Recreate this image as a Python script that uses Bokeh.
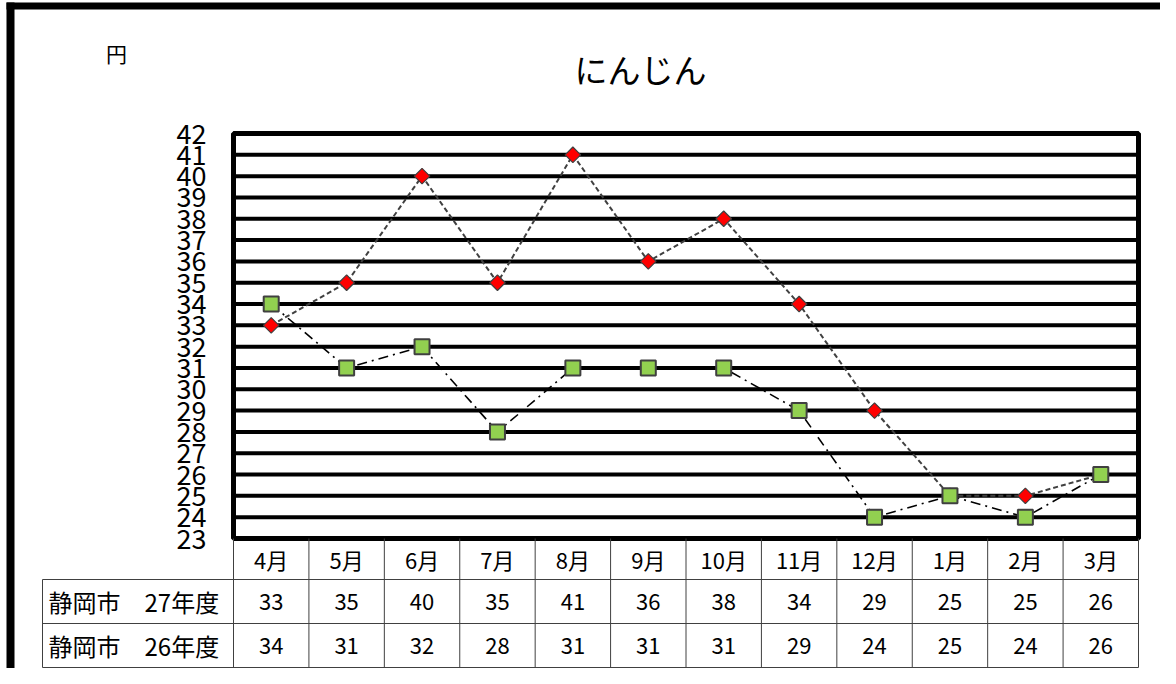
from bokeh.plotting import figure
from bokeh.models import Range1d
from bokeh.core.properties import value
from bokeh.embed import file_html
from bokeh.resources import INLINE

# ---------------- data ----------------
title = "にんじん"
unit = "円"
months = ["4月", "5月", "6月", "7月", "8月", "9月", "10月", "11月", "12月", "1月", "2月", "3月"]
series_names = ["静岡市　27年度", "静岡市　26年度"]
price_27 = [33, 35, 40, 35, 41, 36, 38, 34, 29, 25, 25, 26]
price_26 = [34, 31, 32, 28, 31, 31, 31, 29, 24, 25, 24, 26]
y_ticks = list(range(23, 43))

# ---------------- layout (figure pixels) ----------------
W, H = 1160, 668
PL, PR, PT, PB = 233, 1138, 133, 538          # plot area
YMIN, YMAX = y_ticks[0], y_ticks[-1]
n = len(months)
xpx = (PR - PL) / n
ypx = (PB - PT) / (YMAX - YMIN)

FONT = value("Noto Sans CJK JP")

p = figure(width=W, height=H,
           x_range=Range1d(-PL / xpx, n + (W - PR) / xpx),
           y_range=Range1d(YMIN - (H - PB) / ypx, YMAX + PT / ypx),
           x_axis_type=None, y_axis_type=None,
           output_backend="svg", toolbar_location=None,
           min_border=0, outline_line_color=None)
p.extra_x_ranges = {"px": Range1d(0, W)}
p.extra_y_ranges = {"px": Range1d(H, 0)}
p.background_fill_color = "white"
p.border_fill_color = "white"

xc = [i + 0.5 for i in range(n)]

# outer frame
p.segment(x0=[10], y0=[2], x1=[10], y1=[H], x_range_name="px", y_range_name="px",
          line_color="black", line_width=8)
p.segment(x0=[6], y0=[5.5], x1=[W], y1=[5.5], x_range_name="px", y_range_name="px",
          line_color="black", line_width=7)

# horizontal grid lines
p.segment(x0=[0] * len(y_ticks), x1=[n] * len(y_ticks), y0=y_ticks, y1=y_ticks,
          line_color="black", line_width=4)
# plot border
p.quad(left=[0], right=[n], bottom=[YMIN], top=[YMAX], fill_color=None,
       line_color="black", line_width=5)

# y tick labels
p.text(x=[206] * len(y_ticks), y=y_ticks, text=[str(t) for t in y_ticks],
       x_range_name="px", text_align="right", text_baseline="middle",
       text_font=FONT, text_font_size="27px", text_color="black")

# series lines + markers
p.line(xc, price_27, line_color="#404040", line_width=2, line_dash="5 3")
p.line(xc, price_26, line_color="black", line_width=1.6, line_dash="10 5 2 5")
p.scatter(xc, price_27, marker="square", angle=0.785398, size=11,
          fill_color="#FF0000", line_color="#404040", line_width=1.2)
p.scatter(xc, price_26, marker="square", size=15,
          fill_color="#92D050", line_color="#404040", line_width=2)

# title and unit
p.text(x=[640], y=[68], text=[title], x_range_name="px", y_range_name="px",
       text_align="center", text_baseline="middle", text_font=FONT,
       text_font_size="33px", text_color="black")
p.text(x=[116], y=[52], text=[unit], x_range_name="px", y_range_name="px",
       text_align="center", text_baseline="middle", text_font=FONT,
       text_font_size="21px", text_color="black")

# ---------------- data table ----------------
ROW_LINES = [579, 623, 667]
LBL_L = 42
GRID = "#404040"
# horizontal table lines
p.segment(x0=[LBL_L] * 3, x1=[PR] * 3, y0=ROW_LINES, y1=ROW_LINES,
          x_range_name="px", y_range_name="px", line_color=GRID, line_width=1)
# vertical lines at category boundaries
bounds = list(range(n + 1))
p.segment(x0=bounds, x1=bounds, y0=[PB] * len(bounds), y1=[ROW_LINES[-1]] * len(bounds),
          y_range_name="px", line_color=GRID, line_width=1)
p.segment(x0=[LBL_L], x1=[LBL_L], y0=[ROW_LINES[0]], y1=[ROW_LINES[-1]],
          x_range_name="px", y_range_name="px", line_color=GRID, line_width=1)

rows_y = [558, 601, 645]
p.text(x=xc, y=[rows_y[0]] * n, text=months, y_range_name="px",
       text_align="center", text_baseline="middle", text_font=FONT,
       text_font_size="22px", text_color="black")
for vals, ry, name in zip([price_27, price_26], rows_y[1:], series_names):
    p.text(x=xc, y=[ry] * n, text=[str(v) for v in vals], y_range_name="px",
           text_align="center", text_baseline="middle", text_font=FONT,
           text_font_size="22px", text_color="black")
    p.text(x=[48], y=[ry], text=[name], x_range_name="px", y_range_name="px",
           text_align="left", text_baseline="middle", text_font=FONT,
           text_font_size="24px", text_color="black")

open("out.html", "w").write(file_html(p, INLINE))
